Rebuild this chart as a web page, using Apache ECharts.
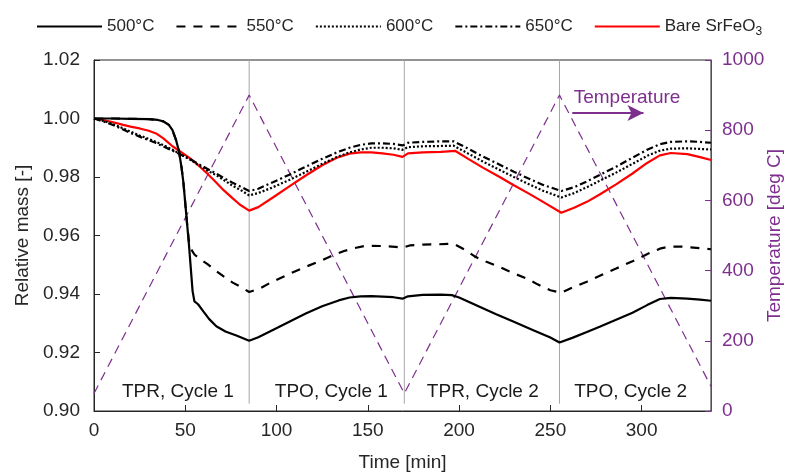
<!DOCTYPE html>
<html><head><meta charset="utf-8">
<script src="https://cdn.jsdelivr.net/npm/echarts@6/dist/echarts.min.js"></script>
<style>html,body{margin:0;padding:0;background:#fff}#c{width:790px;height:472px}</style>
</head><body><div id="c"></div><script>
// [time (min), relative mass]
const mass500 = [[0,1.000],[10,1.0000],[20,0.9999],[30,0.9998],[35,0.9995],[38,0.9990],[41,0.9978],[43,0.9960],[45,0.9925],[46.5,0.9890],[48,0.9830],[49,0.9780],[50,0.9710],[51,0.9640],[52,0.9570],[53,0.9490],[54,0.9410],[55,0.9375],[57,0.9365],[60,0.9340],[63,0.9315],[67,0.9290],[72,0.9272],[78,0.9258],[85,0.9240],
[90,0.9252],[98,0.9277],[107,0.9305],[116,0.9333],[125,0.9358],[134,0.9378],[140,0.9388],[146,0.9392],[152,0.9393],[158,0.9391],[164,0.9389],[169,0.9384],[170,0.9382],[172,0.9392],[180,0.9397],[190,0.9398],[196,0.9396],
[200,0.9388],[210,0.9360],[220,0.9332],[230,0.9305],[240,0.9278],[250,0.9251],[255,0.9234],
[262,0.9250],[270,0.9270],[277,0.9288],[286,0.9312],[295,0.9336],[303,0.9362],[310,0.9383],[316,0.9387],[325,0.9384],[332,0.9381],[338,0.9377]];
const mass550 = [[0,1.000],[10,1.0000],[20,0.9999],[30,0.9998],[35,0.9995],[38,0.9990],[41,0.9978],[43,0.9960],[45,0.9925],[46.5,0.9890],[48,0.9830],[49,0.9780],[50,0.9710],[51,0.9640],[52,0.9580],[53,0.9555],[55,0.9535],[58,0.9520],[62,0.9503],[66,0.9483],[71,0.9460],[76,0.9439],[81,0.9422],[85,0.9407],
[91,0.9419],[97,0.9440],[104,0.9460],[110,0.9477],[116,0.9493],[124,0.9513],[131,0.9533],[137,0.9547],[142,0.9556],[149,0.9565],[158,0.9564],[165,0.9561],[169,0.9558],[170,0.9556],[173,0.9566],[180,0.9569],[189,0.9570],[197,0.9572],
[203,0.9552],[209,0.9527],[215,0.9510],[222,0.9493],[229,0.9473],[237,0.9453],[243,0.9433],[250,0.9413],[256,0.9404],
[262,0.9422],[270,0.9442],[278,0.9465],[286,0.9487],[295,0.9512],[304,0.9539],[310,0.9555],[315,0.9562],[322,0.9562],[330,0.9558],[338,0.9553]];
const mass600 = [[0,1.000],[5,0.9992],[10,0.9982],[16,0.9966],[20,0.9955],[25,0.9942],[30,0.9930],[34,0.9920],[39,0.9906],[43,0.9893],[48,0.9876],[53,0.9858],[58,0.9838],[62,0.9822],[67,0.9806],[71,0.9790],[76,0.9770],[81,0.9753],[85,0.9737],
[90,0.9745],[98,0.9765],[107,0.9790],[116,0.9817],[125,0.9845],[133,0.9868],[140,0.9884],[146,0.9894],[152,0.9900],[158,0.9900],[164,0.9898],[169,0.9893],[170,0.9890],[172,0.9902],[180,0.9905],[190,0.9906],[197,0.9907],
[205,0.9880],[213,0.9853],[222,0.9825],[230,0.9800],[238,0.9776],[246,0.9753],[256,0.9730],
[263,0.9745],[270,0.9765],[277,0.9787],[286,0.9815],[295,0.9845],[303,0.9872],[310,0.9890],[316,0.9897],[325,0.9898],[332,0.9896],[338,0.9894]];
const mass650 = [[0,1.000],[5,0.9990],[10,0.9979],[16,0.9962],[20,0.9951],[25,0.9938],[30,0.9926],[34,0.9916],[39,0.9902],[43,0.9890],[48,0.9875],[53,0.9860],[58,0.9842],[62,0.9828],[67,0.9812],[71,0.9797],[76,0.9780],[81,0.9765],[85,0.9752],
[90,0.9760],[98,0.9782],[107,0.9808],[116,0.9835],[125,0.9862],[133,0.9884],[140,0.9900],[146,0.9910],[152,0.9915],[158,0.9915],[164,0.9913],[169,0.9908],[170,0.9905],[172,0.9917],[180,0.9920],[190,0.9922],[197,0.9922],
[205,0.9897],[213,0.9870],[222,0.9843],[230,0.9818],[238,0.9795],[246,0.9773],[256,0.9752],
[263,0.9765],[270,0.9785],[277,0.9807],[286,0.9835],[295,0.9866],[303,0.9893],[310,0.9912],[316,0.9920],[325,0.9922],[332,0.9920],[338,0.9917]];
const massBare = [[0,1.000],[5,0.9995],[10,0.9988],[16,0.9978],[20,0.9972],[25,0.9966],[30,0.9958],[34,0.9949],[38,0.9932],[43,0.9905],[48,0.9884],[53,0.9862],[58,0.9835],[62,0.9812],[66,0.9787],[71,0.9755],[76,0.9727],[80,0.9705],[85,0.9685],
[90,0.9697],[98,0.9730],[107,0.9768],[116,0.9805],[125,0.9840],[133,0.9866],[140,0.9880],[146,0.9884],[152,0.9884],[158,0.9881],[164,0.9876],[169,0.9869],[170,0.9867],[172,0.9881],[180,0.9884],[190,0.9886],[198,0.9889],
[205,0.9862],[213,0.9832],[222,0.9801],[230,0.9772],[238,0.9744],[246,0.9715],[256,0.9678],
[263,0.9695],[270,0.9715],[277,0.9740],[286,0.9775],[295,0.9812],[303,0.9848],[310,0.9874],[316,0.9882],[325,0.9878],[332,0.9868],[338,0.9858]];
// [time (min), temperature (deg C)]
const temperature = [[0,50],[85,900],[170,50],[255,900],[338,70]];
const phaseBounds = [85,170,255];
const phaseLabels = [[46,'TPR, Cycle 1'],[130,'TPO, Cycle 1'],[213,'TPR, Cycle 2'],[294,'TPO, Cycle 2']];
const phaseLabelLevel = 0.9066;
const legendNames = ['500°C','550°C','600°C','650°C','Bare SrFeO3'];
const tempArrow = [[262,849],[301,849]];
const tempLabel = [292,893];

const FONT = 'Liberation Sans, Arial, sans-serif';
const INK = '#262626';
const PURPLE = '#7E2F8E';
const chart = echarts.init(document.getElementById('c'));

const series = [
  {name:legendNames[0], type:'line', data:mass500, showSymbol:false, symbol:'none', lineStyle:{color:'#000',width:2.2,type:'solid'}, itemStyle:{color:'#000'}, z:5},
  {name:legendNames[1], type:'line', data:mass550, showSymbol:false, symbol:'none', lineStyle:{color:'#000',width:2.2,type:[9,8]}, itemStyle:{color:'#000'}, z:5},
  {name:legendNames[2], type:'line', data:mass600, showSymbol:false, symbol:'none', lineStyle:{color:'#000',width:2.2,type:[2,2]}, itemStyle:{color:'#000'}, z:5},
  {name:legendNames[3], type:'line', data:mass650, showSymbol:false, symbol:'none', lineStyle:{color:'#000',width:2.2,type:[7,3,2,3]}, itemStyle:{color:'#000'}, z:5},
  {name:legendNames[4], type:'line', data:massBare, showSymbol:false, symbol:'none', lineStyle:{color:'#FF0000',width:2.2,type:'solid'}, itemStyle:{color:'#FF0000'}, z:4},
  {name:'Temperature', type:'line', yAxisIndex:1, data:temperature, showSymbol:false, symbol:'none', lineStyle:{color:PURPLE,width:1.2,type:[9,6]}, z:3,
   markLine:{silent:true, symbol:['none','arrow'], symbolSize:[12,16], lineStyle:{color:PURPLE,width:2,type:'solid'}, label:{show:false},
     data:[[{coord:tempArrow[0]},{coord:tempArrow[1]}]]}},
  {name:'tempLabel', type:'scatter', yAxisIndex:1, data:[tempLabel], symbolSize:0, itemStyle:{opacity:1},
   label:{show:true, position:'inside', formatter:'Temperature', color:PURPLE, fontSize:19, fontFamily:FONT, opacity:1}, z:6}
];
phaseBounds.forEach((b,i)=>{
  series.push({name:'bound'+i, type:'line', data:[[b,0.9025],[b,1.02]], showSymbol:false, symbol:'none', lineStyle:{color:'#a6a6a6',width:1}, z:2});
});
series.push({name:'phases', type:'scatter', data:phaseLabels.map(p=>[p[0],phaseLabelLevel,p[1]]), symbolSize:0, itemStyle:{opacity:1},
  label:{show:true, position:'inside', formatter:p=>p.data[2], color:'#1a1a1a', fontSize:19, fontFamily:FONT, opacity:1}, z:6});

chart.setOption({
  animation:false,
  textStyle:{fontFamily:FONT},
  grid:{left:94, right:79, top:60, bottom:61, outerBoundsMode:'none', containLabel:false, show:true, borderColor:INK, borderWidth:1, backgroundColor:'transparent'},
  legend:{data:legendNames, left:31, top:13, itemWidth:65, itemHeight:14, itemGap:21,
    itemStyle:{opacity:0},
    textStyle:{fontSize:17, color:INK, fontFamily:FONT, rich:{sub:{fontSize:12, verticalAlign:'bottom', padding:[10,0,0,0], fontFamily:FONT, color:INK}}},
    formatter:n=> n==='Bare SrFeO3' ? 'Bare SrFeO{sub|3}' : n},
  xAxis:{type:'value', min:0, max:338, interval:50, name:'Time [min]', nameLocation:'middle', nameGap:42,
    nameTextStyle:{fontSize:19, color:INK, fontFamily:FONT},
    axisLine:{lineStyle:{color:INK,width:1}}, axisTick:{inside:true, length:6, lineStyle:{color:INK}},
    axisLabel:{fontSize:19, color:INK, margin:10, showMaxLabel:false, fontFamily:FONT}, splitLine:{show:false}},
  yAxis:[
    {type:'value', min:0.90, max:1.02, interval:0.02, name:'Relative mass [-]', nameLocation:'middle', nameGap:62, nameRotate:90,
     nameTextStyle:{fontSize:19, color:INK, fontFamily:FONT},
     axisLine:{show:true, lineStyle:{color:INK,width:1}}, axisTick:{show:true, inside:true, length:6, lineStyle:{color:INK}},
     axisLabel:{fontSize:19, color:INK, margin:14, formatter:v=>v.toFixed(2), fontFamily:FONT}, splitLine:{show:false}},
    {type:'value', min:0, max:1000, interval:200, position:'right', name:'Temperature [deg C]', nameLocation:'middle', nameGap:54, nameRotate:90,
     nameMoveOverlap:false,
     nameTextStyle:{fontSize:19, color:PURPLE, fontFamily:FONT},
     axisLine:{show:true, lineStyle:{color:PURPLE,width:1}}, axisTick:{show:true, inside:true, length:6, lineStyle:{color:PURPLE}},
     axisLabel:{fontSize:19, color:PURPLE, margin:11, formatter:v=>String(v), fontFamily:FONT}, splitLine:{show:false}}
  ],
  series:series
});
</script></body></html>
